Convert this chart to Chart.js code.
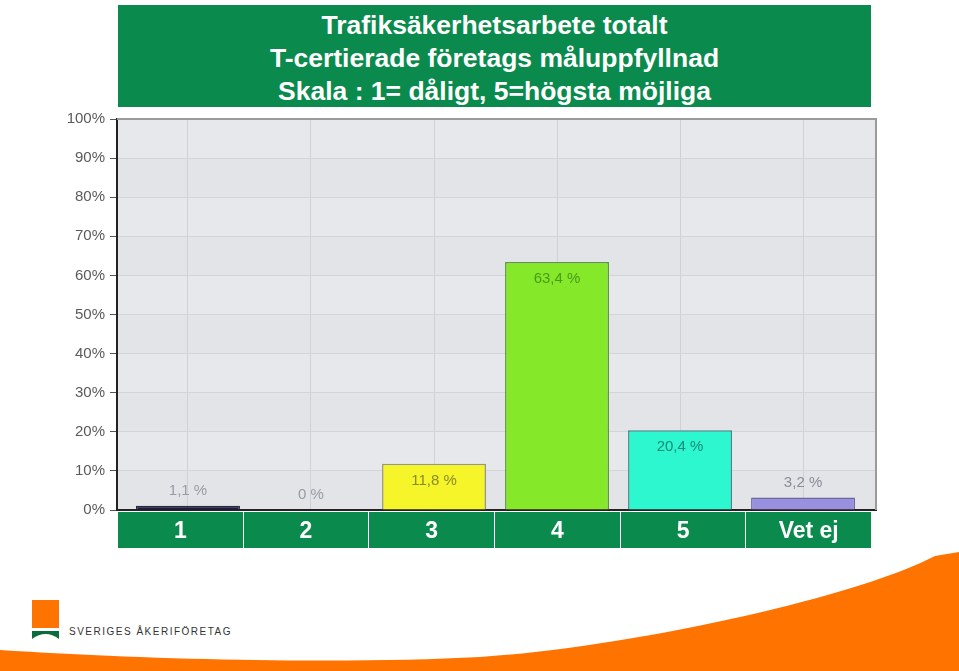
<!DOCTYPE html>
<html lang="sv">
<head>
<meta charset="UTF-8">
<title>Trafiksäkerhetsarbete totalt</title>
<script src="https://cdn.jsdelivr.net/npm/chart.js"></script>
<style>
  body { margin: 0; width: 959px; height: 671px; position: relative; overflow: hidden; background: #fff;
         font-family: "Liberation Sans", Arial, sans-serif; }
  .title { position: absolute; left: 118px; top: 5px; width: 753px; height: 102px; background: #0a8a4c;
           color: #fff; font-weight: bold; font-size: 26.5px; line-height: 33px; text-align: center;
           padding-top: 4px; box-sizing: border-box; }
  #chartBox { position: absolute; left: 0; top: 100px; }
  .cells { position: absolute; left: 118px; top: 512px; width: 753px; height: 36px; display: flex; gap: 1px; }
  .cells div { flex: 1; background: #0a8a4c; color: #fff; font-weight: bold; font-size: 23px;
               display: flex; align-items: center; justify-content: center; }
  .swoosh { position: absolute; left: 0; top: 0; }
  .logo-text { position: absolute; left: 69px; top: 626px; font-size: 10px; letter-spacing: 1.5px; color: #333; }
</style>
</head>
<body>
<svg class="swoosh" width="959" height="671">
  <path d="M0,650 C150,660 350,664 480,657 C620,648 850,600 935,556 L959,552 L959,671 L0,671 Z" fill="#ff7300"/>
  <rect x="32" y="600" width="27" height="28" fill="#ff7300"/>
  <path d="M32,631 L59,631 L59,639 Q45.5,629 32,639 Z" fill="#0b6b3a"/>
</svg>
<div class="logo-text">SVERIGES ÅKERIFÖRETAG</div>

<div class="title">Trafiksäkerhetsarbete totalt<br>T-certierade företags måluppfyllnad<br>Skala : 1= dåligt, 5=högsta möjliga</div>

<div id="chartBox"><canvas id="chart" width="900" height="424"></canvas></div>
<div class="cells" id="cells"></div>

<script>
const categories = ['1', '2', '3', '4', '5', 'Vet ej'];
const values = [1.1, 0, 11.8, 63.4, 20.4, 3.2];
const valueLabels = ['1,1 %', '0 %', '11,8 %', '63,4 %', '20,4 %', '3,2 %'];
const barColors = ['#1c1a48', '#888888', '#f5f52a', '#85e92a', '#2cf7cf', '#9a90e0'];
const barBorders = ['#2a2a3a', '#888888', '#9a9a6a', '#5a9a3a', '#3a8a8a', '#6a6a9a'];
const labelColors = ['#9a9aa6', '#9a9aa6', '#8a8a2a', '#4a9a1a', '#1a8a7a', '#8a8a9a'];
const yTicks = [0, 10, 20, 30, 40, 50, 60, 70, 80, 90, 100];

// category cells under the plot
const cellsEl = document.getElementById('cells');
categories.forEach(c => {
  const d = document.createElement('div');
  d.textContent = c;
  cellsEl.appendChild(d);
});

// plot background, bands and top/right frame
const frame = {
  id: 'frame',
  beforeDraw(chart) {
    const {ctx, chartArea: a, scales: {y}} = chart;
    ctx.save();
    ctx.fillStyle = '#e6e8eb';
    ctx.fillRect(a.left, a.top, a.right - a.left, a.bottom - a.top);
    ctx.fillStyle = '#e2e4e7';
    for (let i = 0; i < yTicks.length - 1; i += 2) {
      const t = y.getPixelForValue(yTicks[i + 1]), b = y.getPixelForValue(yTicks[i]);
      ctx.fillRect(a.left, t, a.right - a.left, b - t);
    }
    ctx.restore();
  },
  afterDraw(chart) {
    const {ctx, chartArea: a} = chart;
    ctx.save();
    ctx.strokeStyle = '#9a9a9a';
    ctx.lineWidth = 2;
    ctx.beginPath();
    ctx.moveTo(a.left, a.top);
    ctx.lineTo(a.right, a.top);
    ctx.lineTo(a.right, a.bottom);
    ctx.stroke();
    ctx.restore();
  }
};

// value labels: inside top for tall bars, above for short ones
const valueText = {
  id: 'valueText',
  afterDatasetsDraw(chart) {
    const {ctx} = chart;
    const meta = chart.getDatasetMeta(0);
    ctx.save();
    ctx.font = '15px "Liberation Sans", Arial, sans-serif';
    ctx.textAlign = 'center';
    ctx.textBaseline = 'middle';
    meta.data.forEach((bar, i) => {
      ctx.fillStyle = labelColors[i];
      const inside = values[i] > 10;
      ctx.fillText(valueLabels[i], bar.x, inside ? bar.y + 17 : bar.y - 15);
    });
    ctx.restore();
  }
};

new Chart(document.getElementById('chart'), {
  type: 'bar',
  data: {
    datasets: [{
      data: values.map((v, i) => ({x: i, y: v})),
      backgroundColor: barColors,
      borderColor: barBorders,
      borderWidth: 1.5,
      barPercentage: 0.845,
      categoryPercentage: 1
    }]
  },
  options: {
    responsive: false,
    animation: false,
    devicePixelRatio: 1,
    layout: { padding: { left: 0, right: 24, top: 19, bottom: 7 } },
    plugins: { legend: { display: false }, tooltip: { enabled: false } },
    scales: {
      x: {
        type: 'linear',
        offset: false,
        min: -0.577,
        max: 5.593,
        afterBuildTicks: s => { s.ticks = categories.map((c, i) => ({value: i})); },
        afterFit: s => { s.height = 0; },
        ticks: { display: false },
        grid: { color: '#cfd1d4', drawTicks: false, offset: false },
        border: { color: '#222', width: 2 }
      },
      y: {
        min: 0,
        max: 100,
        afterBuildTicks: s => { s.ticks = yTicks.map(v => ({value: v})); },
        afterFit: s => { s.width = 117; },
        ticks: {
          callback: v => v + '%',
          color: '#5a5a5a',
          padding: 5,
          font: { family: '"Liberation Sans", Arial, sans-serif', size: 15 }
        },
        grid: { color: '#d3d5d8', tickColor: '#555', tickLength: 7 },
        border: { color: '#222', width: 2 }
      }
    }
  },
  plugins: [frame, valueText]
});
</script>
</body>
</html>
